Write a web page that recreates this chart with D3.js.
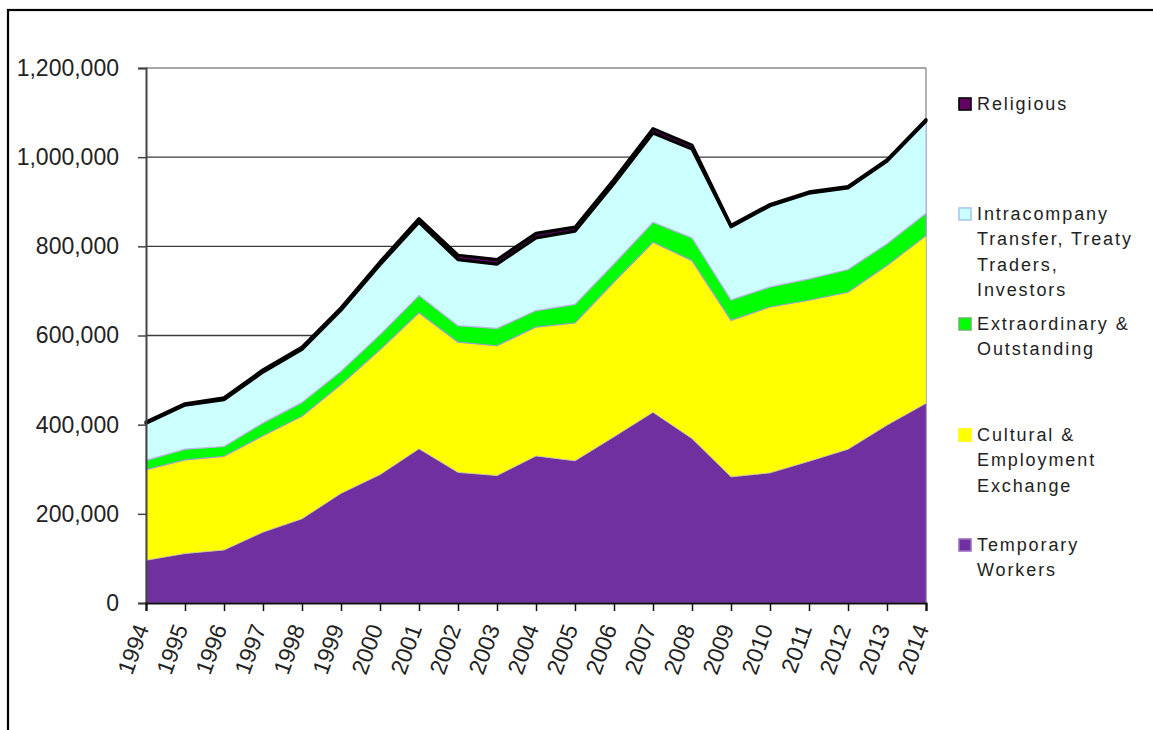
<!DOCTYPE html>
<html>
<head>
<meta charset="utf-8">
<script src="https://cdn.jsdelivr.net/npm/d3@7"></script>
<style>
  body { margin: 0; background: #fff; }
  text { font-family: "Liberation Sans", Arial, sans-serif; fill: #222; }
</style>
</head>
<body>
<script>
// values
const years = [1994, 1995, 1996, 1997, 1998, 1999, 2000, 2001, 2002, 2003, 2004,
  2005, 2006, 2007, 2008, 2009, 2010, 2011, 2012, 2013, 2014];

const temporaryWorkers = [96000, 111000, 119000, 159000, 189000, 246000, 288000, 346000, 293000, 286000, 330000,
  319000, 373000, 428000, 369000, 283000, 292000, 318000, 345000, 399000, 448000];
const culturalExchange = [203000, 210000, 210000, 216000, 230000, 244000, 280000, 305000, 292000, 291000, 289000,
  309000, 347000, 381000, 399000, 351000, 372000, 361000, 352000, 358000, 376000];
const extraordinary = [21000, 24000, 22000, 29000, 31000, 30000, 34000, 39000, 37000, 39000, 37000,
  42000, 41000, 45000, 51000, 46000, 45000, 48000, 51000, 49000, 50000];
const intracompany = [83000, 99000, 105000, 114000, 119000, 137000, 157000, 164000, 148000, 144000, 163000,
  164000, 180000, 200000, 199000, 164000, 182000, 192000, 183000, 185000, 207000];
const religious = [3000, 3000, 4000, 5000, 5000, 5000, 6000, 8000, 10000, 10000, 10000,
  9000, 9000, 10000, 9000, 3000, 3000, 3000, 3000, 3000, 3000];

const yTicks = [0, 200000, 400000, 600000, 800000, 1000000, 1200000];

const seriesNames = ["Temporary Workers", "Cultural & Employment Exchange", "Extraordinary & Outstanding",
  "Intracompany Transfer, Treaty Traders, Investors", "Religious"];

const drawViz = () => {
  let width = 1153, height = 730;
  let margin = {top: 68, left: 146},
    plotW = 780, plotH = 535;

  let svg = d3.select("body").append("svg")
    .attr("width", width)
    .attr("height", height);

  // outer frame
  svg.append("rect")
    .attr("x", 8).attr("y", 10)
    .attr("width", 1160).attr("height", 740)
    .attr("fill", "none")
    .attr("stroke", "#000")
    .attr("stroke-width", 2.2);

  let g = svg.append("g")
    .attr("transform", "translate(" + margin.left + "," + margin.top + ")");

  let data = years.map((yr, i) => ({
    year: yr,
    tw: temporaryWorkers[i],
    ce: culturalExchange[i],
    eo: extraordinary[i],
    ic: intracompany[i],
    rl: religious[i]
  }));

  let x = d3.scaleLinear()
    .domain([1994, 2014])
    .range([0, plotW]);

  let y = d3.scaleLinear()
    .domain([0, 1200000])
    .range([plotH, 0]);

  // gridlines
  g.append("g")
    .selectAll("line")
    .data(yTicks.filter(d => d > 0))
    .enter()
    .append("line")
    .attr("x1", 0).attr("x2", plotW)
    .attr("y1", d => y(d)).attr("y2", d => y(d))
    .attr("stroke", d => d === 1200000 ? "#8a8a8a" : "#3a3a3a")
    .attr("stroke-width", 1.3);

  // right border of plot area
  g.append("line")
    .attr("x1", plotW).attr("x2", plotW)
    .attr("y1", 0).attr("y2", plotH)
    .attr("stroke", "#8a8a8a")
    .attr("stroke-width", 1.3);

  let stack = d3.stack()
    .keys(["tw", "ce", "eo", "ic", "rl"]);
  let layers = stack(data);

  let fills = ["#7030a0", "#ffff00", "#00ff00", "#ccffff", "#660066"];
  let strokes = ["#9a70c0", "#c8c8a0", "#9aa0c8", "#b8b8e0", "#000"];
  let widths = [0.8, 0.8, 1.2, 1.2, 3.2];

  let area = d3.area()
    .x(d => x(d.data.year))
    .y0(d => y(d[0]))
    .y1(d => y(d[1]));

  g.append("g")
    .selectAll("path")
    .data(layers)
    .enter()
    .append("path")
    .attr("d", area)
    .attr("fill", (d, i) => fills[i])
    .attr("stroke", (d, i) => strokes[i])
    .attr("stroke-width", (d, i) => widths[i])
    .attr("stroke-linejoin", "round");

  // y axis
  let yAxis = g.append("g")
    .call(d3.axisLeft(y).tickValues(yTicks).tickSize(8).tickFormat(d3.format(",")));
  yAxis.select(".domain").attr("stroke", "#444").attr("stroke-width", 2);
  yAxis.selectAll(".tick line").attr("stroke", "#444").attr("stroke-width", 1.5);
  yAxis.selectAll(".tick text")
    .attr("x", -27)
    .style("font-family", "'Liberation Sans', Arial, sans-serif")
    .style("font-size", "23px")
    .attr("fill", "#222");

  // x axis
  let xAxis = g.append("g")
    .attr("transform", "translate(0," + plotH + ")")
    .call(d3.axisBottom(x).tickValues(years).tickSize(8).tickFormat(d3.format("d")));
  xAxis.select(".domain").attr("stroke", "#111").attr("stroke-width", 2.2);
  xAxis.selectAll(".tick line").attr("stroke", "#111").attr("stroke-width", 1.5);
  xAxis.selectAll(".tick text")
    .attr("y", 0)
    .attr("dy", 0)
    .attr("text-anchor", "end")
    .attr("transform", "translate(3,25) rotate(-70)")
    .style("font-family", "'Liberation Sans', Arial, sans-serif")
    .style("font-size", "23px")
    .attr("fill", "#222");

  // legend
  let legend = [
    {name: seriesNames[4], fill: fills[4], stroke: "#000", lines: ["Religious"], y: 110},
    {name: seriesNames[3], fill: fills[3], stroke: "#a8c8f0", lines: ["Intracompany", "Transfer, Treaty", "Traders,", "Investors"], y: 220},
    {name: seriesNames[2], fill: fills[2], stroke: "#60c060", lines: ["Extraordinary &", "Outstanding"], y: 330},
    {name: seriesNames[1], fill: fills[1], stroke: "#ffff00", lines: ["Cultural &", "Employment", "Exchange"], y: 441},
    {name: seriesNames[0], fill: fills[0], stroke: "#9a70c0", lines: ["Temporary", "Workers"], y: 551}
  ];

  let lg = svg.append("g").selectAll("g")
    .data(legend)
    .enter()
    .append("g");

  lg.append("rect")
    .attr("x", 959)
    .attr("y", d => d.y - 12)
    .attr("width", 12)
    .attr("height", 12)
    .attr("fill", d => d.fill)
    .attr("stroke", d => d.stroke)
    .attr("stroke-width", 1.6);

  lg.append("text")
    .attr("x", 977)
    .attr("y", d => d.y)
    .style("font-size", "18px")
    .style("letter-spacing", "1.9px")
    .selectAll("tspan")
    .data(d => d.lines)
    .enter()
    .append("tspan")
    .attr("x", 977)
    .attr("dy", (d, i) => i === 0 ? 0 : 25.3)
    .text(d => d);
};

drawViz();
</script>
</body>
</html>
